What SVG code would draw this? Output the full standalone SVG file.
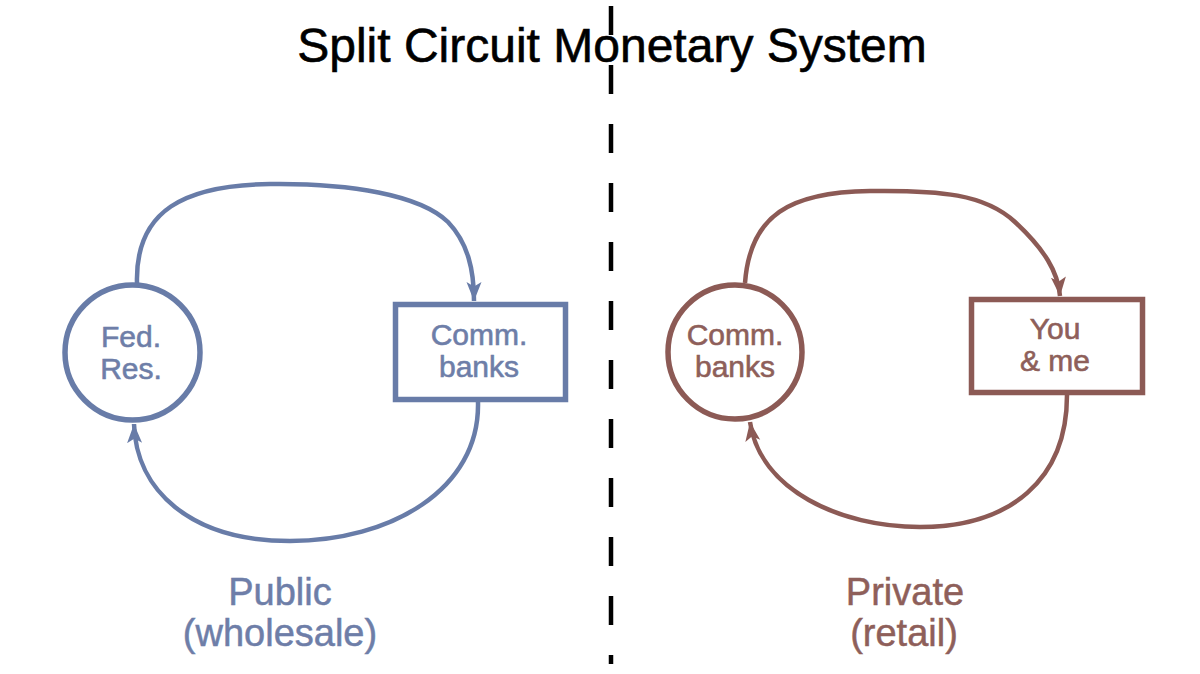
<svg xmlns="http://www.w3.org/2000/svg" width="1200" height="674" viewBox="0 0 1200 674">
  <defs>
    <marker id="arrBlue" markerUnits="userSpaceOnUse" markerWidth="20" markerHeight="18" viewBox="0 0 20 18" refX="19" refY="9" orient="auto">
      <path d="M0,1.5 L19,9 L0,16.5 L4.5,9 Z" fill="#687ca8"/>
    </marker>
    <marker id="arrBrown" markerUnits="userSpaceOnUse" markerWidth="20" markerHeight="18" viewBox="0 0 20 18" refX="19" refY="9" orient="auto">
      <path d="M0,1.5 L19,9 L0,16.5 L4.5,9 Z" fill="#8c5a55"/>
    </marker>
    <style>
      .blue { stroke: #687ca8; }
      .brown { stroke: #8c5a55; }
      .node { fill: #ffffff; stroke-width: 5.5; }
      .edge { fill: none; stroke-width: 4.5; }
      .lbl { font-family: "Liberation Sans", Arial, sans-serif; font-size: 30px; text-anchor: middle; stroke-width: 0.6; }
      .tb { fill: #6e7ea8; stroke: #6e7ea8; }
      .tr { fill: #8e5f5a; stroke: #8e5f5a; }
      .cap { font-family: "Liberation Sans", Arial, sans-serif; font-size: 38px; text-anchor: middle; stroke-width: 0.5; }
    </style>
  </defs>
  <rect width="1200" height="674" fill="#ffffff"/>

  <text x="612" y="62" font-family="Liberation Sans, Arial, sans-serif" font-size="48" text-anchor="middle" fill="#000000" stroke="#000000" stroke-width="0.6">Split Circuit Monetary System</text>

  <line id="divider" x1="611" y1="6" x2="611" y2="664" stroke="#000000" stroke-width="4.5" stroke-dasharray="29 30"/>

  <g id="connectors">
    <path class="edge blue" d="M137,283 C135,210 185,185 270,184 C350,183 420,195 448,222 C468,243 474,270 474,301" marker-end="url(#arrBlue)"/>
    <path class="edge blue" d="M478,402 C480,490 390,541 290,541 C190,541 136,490 134,424" marker-end="url(#arrBlue)"/>
    <path class="edge brown" d="M745,283 C750,215 790,192 870,191 C940,190 985,194 1015,222 C1045,250 1058,272 1060,296" marker-end="url(#arrBrown)"/>
    <path class="edge brown" d="M1067,395 C1067,480 1010,527 920,527 C840,527 760,490 750,422" marker-end="url(#arrBrown)"/>
  </g>

  <g id="fed-res">
    <circle class="node blue" cx="132.5" cy="352.5" r="67.5"/>
    <text class="lbl tb" x="131" y="347">Fed.<tspan x="131" y="379">Res.</tspan></text>
  </g>

  <g id="comm-banks-public">
    <rect class="node blue" x="395.5" y="304.5" width="170" height="95"/>
    <text class="lbl tb" x="479" y="345">Comm.<tspan x="479" y="377">banks</tspan></text>
  </g>

  <g id="comm-banks-private">
    <circle class="node brown" cx="735" cy="352" r="67"/>
    <text class="lbl tr" x="735" y="345">Comm.<tspan x="735" y="377">banks</tspan></text>
  </g>

  <g id="you-and-me">
    <rect class="node brown" x="971.5" y="299.5" width="171" height="93"/>
    <text class="lbl tr" x="1055" y="339">You<tspan x="1055" y="371">&amp; me</tspan></text>
  </g>

  <g id="label-public">
    <text class="cap tb" x="280" y="605">Public<tspan x="280" y="646">(wholesale)</tspan></text>
  </g>

  <g id="label-private">
    <text class="cap tr" x="905" y="605">Private<tspan x="904" y="646">(retail)</tspan></text>
  </g>
</svg>
